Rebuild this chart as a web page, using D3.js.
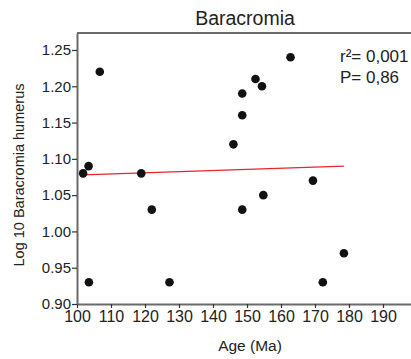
<!DOCTYPE html>
<html>
<head>
<meta charset="utf-8">
<script src="https://cdn.jsdelivr.net/npm/d3@7"></script>
<style>
  body { margin: 0; background: #fff; }
  svg { display: block; font-family: "Liberation Sans", Arial, sans-serif; }
</style>
</head>
<body>
<svg width="411" height="359"></svg>
<script>
// data
var ages = [101.8, 103.4, 103.5, 106.7, 118.9, 122.0, 127.2, 146.0, 148.6, 148.6, 148.6, 152.5, 154.4, 154.8, 162.8, 169.4, 172.3, 178.5];
var humerus = [1.08, 1.09, 0.93, 1.22, 1.08, 1.03, 0.93, 1.12, 1.19, 1.16, 1.03, 1.21, 1.20, 1.05, 1.24, 1.07, 0.93, 0.97];
var fitAges = [101.8, 178.5];
var fitValues = [1.078, 1.090];
var xTicks = [100, 110, 120, 130, 140, 150, 160, 170, 180, 190];
var yTicks = [0.90, 0.95, 1.00, 1.05, 1.10, 1.15, 1.20, 1.25];
var statLines = ["r\u00b2= 0,001", "P= 0,86"];

var svg = d3.select('svg');
var x = d3.scaleLinear().domain([100, 200]).range([77, 417]);
var y = d3.scaleLinear().domain([0.90, 1.2734]).range([304, 33]);
var axisCol = '#6a6a6a';

// top border of the frame
svg.append('line').attr('x1', 77).attr('x2', 420).attr('y1', y(1.2734)).attr('y2', y(1.2734))
  .attr('stroke', axisCol).attr('stroke-width', 2);

var gx = svg.append('g').attr('transform', 'translate(0,304)')
  .call(d3.axisBottom(x).tickValues(xTicks).tickSize(4).tickSizeOuter(0).tickPadding(3));
var gy = svg.append('g').attr('transform', 'translate(77,0)')
  .call(d3.axisLeft(y).tickValues(yTicks).tickSize(5).tickSizeOuter(0).tickPadding(1).tickFormat(d3.format('.2f')));
gx.select('.domain').attr('stroke', axisCol).attr('stroke-width', 2);
gy.select('.domain').attr('stroke', axisCol).attr('stroke-width', 2);
gx.selectAll('.tick line').attr('stroke', '#333').attr('stroke-width', 1.2);
gy.selectAll('.tick line').attr('stroke', '#333').attr('stroke-width', 1.2);
gx.selectAll('.tick text').attr('font-size', 16).attr('fill', '#222').attr('font-family', 'Liberation Sans, Arial');
gy.selectAll('.tick text').attr('font-size', 15).attr('fill', '#222').attr('font-family', 'Liberation Sans, Arial');

// regression line
svg.append('line')
  .attr('x1', x(fitAges[0])).attr('y1', y(fitValues[0]))
  .attr('x2', x(fitAges[1])).attr('y2', y(fitValues[1]))
  .attr('stroke', '#e3262e').attr('stroke-width', 1.2);

svg.selectAll('circle.pt').data(ages).enter().append('circle')
  .attr('class', 'pt')
  .attr('cx', function(d) { return x(d); })
  .attr('cy', function(d, i) { return y(humerus[i]); })
  .attr('r', 4.3).attr('fill', '#111');

svg.append('text').attr('x', 245).attr('y', 25).attr('text-anchor', 'middle')
  .attr('font-size', 19.5).attr('fill', '#222').text('Baracromia');
svg.append('text').attr('x', 250).attr('y', 351).attr('text-anchor', 'middle')
  .attr('font-size', 15.5).attr('fill', '#222').text('Age (Ma)');
svg.append('text').attr('transform', 'translate(24,175) rotate(-90)').attr('text-anchor', 'middle')
  .attr('font-size', 14.5).attr('fill', '#222').text('Log 10 Baracromia humerus');

svg.selectAll('text.stat').data(statLines).enter().append('text')
  .attr('class', 'stat')
  .attr('x', 340).attr('y', function(d, i) { return 62 + i * 21; })
  .attr('font-size', 17).attr('fill', '#222').text(function(d) { return d; });
</script>
</body>
</html>
